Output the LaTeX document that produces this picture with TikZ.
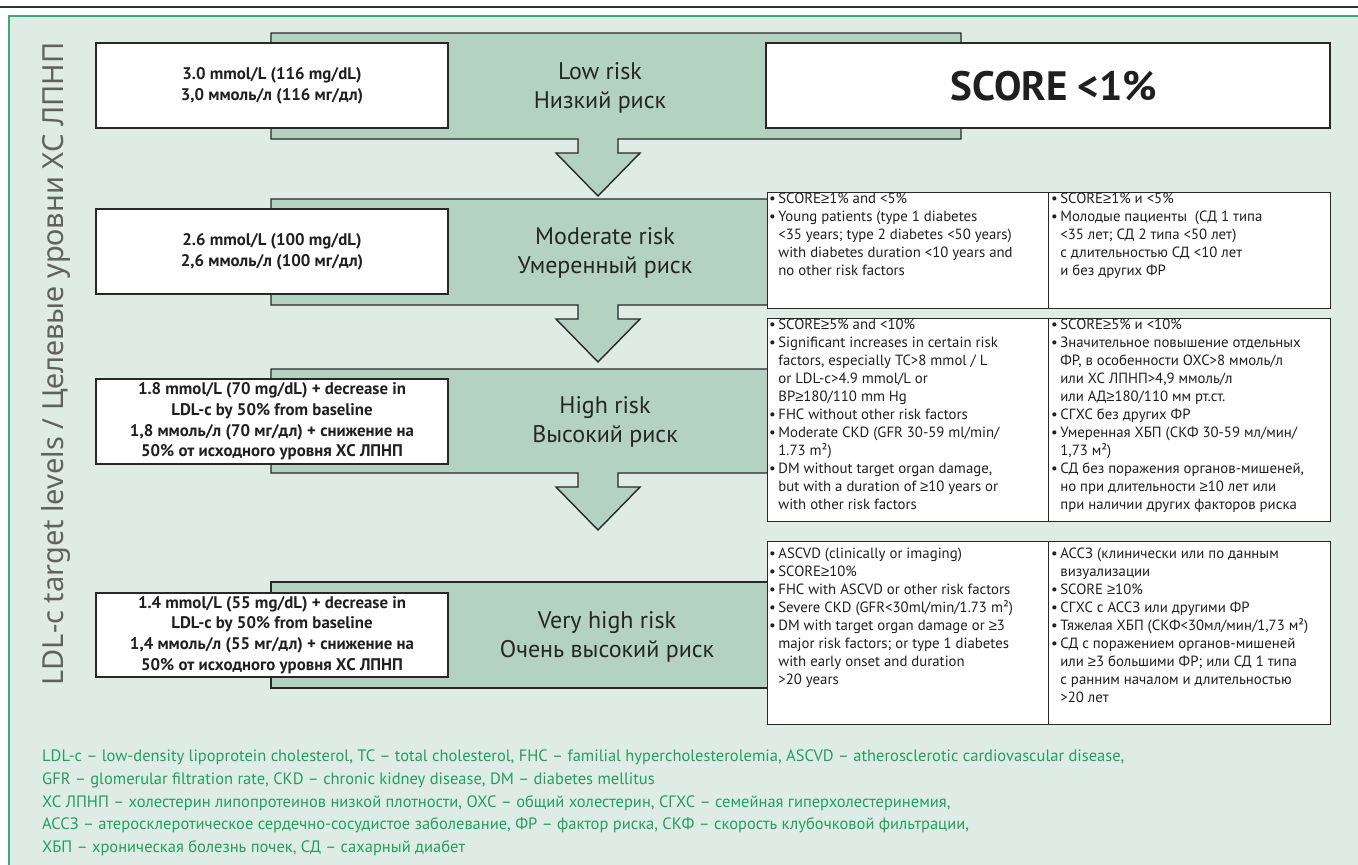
\documentclass[tikz,border=0pt]{standalone}
\usepackage{fontspec}
\setmainfont{PT Sans}
\newfontfamily\titlefont{Noto Sans}
\newfontfamily\symfont{Liberation Sans}
\definecolor{panelc}{RGB}{223,236,230}
\definecolor{bandc}{RGB}{180,210,193}
\definecolor{edgec}{RGB}{40,40,40}
\definecolor{framec}{RGB}{60,170,120}
\definecolor{footc}{RGB}{35,158,98}
\newcommand\bul{\makebox[0.62em][l]{•}}
\newcommand\ind{\hspace*{0.62em}}
\newcommand\gee{{\symfont ≥}}
\newcommand\bandarrow[4]{%
  \draw[band] (#1,#2) -- (#3,#2) -- (#3,#4) -- (618,#4) -- (618,{#4+14}) -- (640,{#4+14})
    -- (598,{#4+57}) -- (556,{#4+14}) -- (578,{#4+14}) -- (578,#4) -- (#1,#4) -- cycle;}
\tikzset{
  band/.style={fill=bandc, draw=edgec, line width=1.4pt, line join=miter},
  whitebox/.style={draw=edgec, fill=white, line width=1.6pt, inner sep=0pt},
  tcell/.style={draw=edgec, fill=white, line width=1.4pt, inner sep=0pt, anchor=north west},
  ttext/.style={anchor=north west, inner sep=0pt, align=left, text=black!88,
    font=\fontsize{14.8}{18}\selectfont},
  target/.style={align=center, text=black!88, font=\bfseries\fontsize{16.8}{20.7}\selectfont},
  risk/.style={align=center, text=black!85, font=\fontsize{24}{29}\selectfont},
}
\begin{document}
\begin{tikzpicture}[x=1pt,y=-1pt]
\useasboundingbox (0,0) rectangle (1358,865);
\fill[panelc] (9,16) rectangle (1358,865);
\draw[black!80, line width=1.3pt] (0,7) -- (1358,7);
\draw[framec, line width=1.6pt] (1358,16) -- (9,16) -- (9,865);

% vertical title
\node[rotate=90, text=black!62, font=\titlefont\fontsize{29}{29}\selectfont] (title) at (56,364)
  {LDL-c target levels / Целевые уровни ХС ЛПНП};

% bands with arrows
\bandarrow{271}{33}{961}{139}
\bandarrow{271}{199}{800}{305}
\bandarrow{271}{369}{800}{473}
\draw[band] (271,582) rectangle (800,688);

% risk labels
\node[risk] (r1) at (600,88) {Low risk\\Низкий риск};
\node[risk] (r2) at (605,253) {Moderate risk\\Умеренный риск};
\node[risk] (r3) at (605,422) {High risk\\Высокий риск};
\node[risk] (r4) at (607,637) {Very high risk\\Очень высокий риск};

% target boxes
\node[whitebox, minimum width=352pt, minimum height=85pt] (w1) at (272,85.5) {};
\node[target] (w1t) at (w1.center) {3.0 mmol/L (116 mg/dL)\\3,0 ммоль/л (116 мг/дл)};
\node[whitebox, minimum width=352pt, minimum height=85pt] (w2) at (272,251.5) {};
\node[target] (w2t) at (w2.center) {2.6 mmol/L (100 mg/dL)\\2,6 ммоль/л (100 мг/дл)};
\node[whitebox, minimum width=352pt, minimum height=85pt] (w3) at (272,421.5) {};
\node[target] (w3t) at (w3.center) {1.8 mmol/L (70 mg/dL) + decrease in\\LDL-c by 50\% from baseline\\1,8 ммоль/л (70 мг/дл) + снижение на\\50\% от исходного уровня ХС ЛПНП};
\node[whitebox, minimum width=352pt, minimum height=84pt] (w4) at (272,635) {};
\node[target] (w4t) at (w4.center) {1.4 mmol/L (55 mg/dL) + decrease in\\LDL-c by 50\% from baseline\\1,4 ммоль/л (55 мг/дл) + снижение на\\50\% от исходного уровня ХС ЛПНП};

% SCORE box
\node[whitebox, minimum width=564pt, minimum height=85pt] (s1) at (1048,85.5) {};
\node[font=\bfseries\fontsize{41}{41}\selectfont, text=black!88] (s1t) at (1054,86) {SCORE <1\%};

% table 1
\node[tcell, minimum width=281pt, minimum height=116pt] (t1l) at (767,192) {};
\node[tcell, minimum width=282pt, minimum height=116pt] (t1r) at (1048,192) {};
\node[ttext] (t1lt) at (769,193) {\bul SCORE\gee1\% and <5\%\\
\bul Young patients (type 1 diabetes\\
\ind <35 years; type 2 diabetes <50 years)\\
\ind with diabetes duration <10 years and\\
\ind no other risk factors};
\node[ttext] (t1rt) at (1051,193) {\bul SCORE\gee1\% и <5\%\\
\bul Молодые пациенты \ (СД 1 типа\\
\ind <35 лет; СД 2 типа <50 лет)\\
\ind с длительностью СД <10 лет\\
\ind и без других ФР};

% table 2
\node[tcell, minimum width=281pt, minimum height=203pt] (t2l) at (767,318) {};
\node[tcell, minimum width=282pt, minimum height=203pt] (t2r) at (1048,318) {};
\node[ttext] (t2lt) at (769,318.5) {\bul SCORE\gee5\% and <10\%\\
\bul Significant increases in certain risk\\
\ind factors, especially TC>8 mmol / L\\
\ind or LDL-c>4.9 mmol/L or\\
\ind BP\gee180/110 mm Hg\\
\bul FHC without other risk factors\\
\bul Moderate CKD (GFR 30-59 ml/min/\\
\ind 1.73 m²)\\
\bul DM without target organ damage,\\
\ind but with a duration of \gee10 years or\\
\ind with other risk factors};
\node[ttext] (t2rt) at (1051,318.5) {\bul SCORE\gee5\% и <10\%\\
\bul Значительное повышение отдельных\\
\ind ФР, в особенности ОХС>8 ммоль/л\\
\ind или ХС ЛПНП>4,9 ммоль/л\\
\ind или АД\gee180/110 мм рт.ст.\\
\bul СГХС без других ФР\\
\bul Умеренная ХБП (СКФ 30-59 мл/мин/\\
\ind 1,73 м²)\\
\bul СД без поражения органов-мишеней,\\
\ind но при длительности \gee10 лет или\\
\ind при наличии других факторов риска};

% table 3
\node[tcell, minimum width=281pt, minimum height=183pt] (t3l) at (767,541) {};
\node[tcell, minimum width=282pt, minimum height=183pt] (t3r) at (1048,541) {};
\node[ttext] (t3lt) at (769,548) {\bul ASCVD (clinically or imaging)\\
\bul SCORE\gee10\%\\
\bul FHC with ASCVD or other risk factors\\
\bul Severe CKD (GFR<30ml/min/1.73 m²)\\
\bul DM with target organ damage or \gee3\\
\ind major risk factors; or type 1 diabetes\\
\ind with early onset and duration\\
\ind >20 years};
\node[ttext] (t3rt) at (1051,548) {\bul АССЗ (клинически или по данным\\
\ind визуализации\\
\bul SCORE \gee10\%\\
\bul СГХС с АССЗ или другими ФР\\
\bul Тяжелая ХБП (СКФ<30мл/мин/1,73 м²)\\
\bul СД с поражением органов-мишеней\\
\ind или \gee3 большими ФР; или СД 1 типа\\
\ind с ранним началом и длительностью\\
\ind >20 лет};

% legend
\node[anchor=north west, inner sep=0pt, align=left, text=footc,
  font=\fontsize{16.5}{22.6}\selectfont] (legend) at (42,750)
{LDL-c – low-density lipoprotein cholesterol, TC – total cholesterol, FHC – familial hypercholesterolemia, ASCVD – atherosclerotic cardiovascular disease,\\
GFR – glomerular filtration rate, CKD – chronic kidney disease, DM – diabetes mellitus\\
ХС ЛПНП – холестерин липопротеинов низкой плотности, ОХС – общий холестерин, СГХС – семейная гиперхолестеринемия,\\
АССЗ – атеросклеротическое сердечно-сосудистое заболевание, ФР – фактор риска, СКФ – скорость клубочковой фильтрации,\\
ХБП – хроническая болезнь почек, СД – сахарный диабет};
\end{tikzpicture}
\end{document}
